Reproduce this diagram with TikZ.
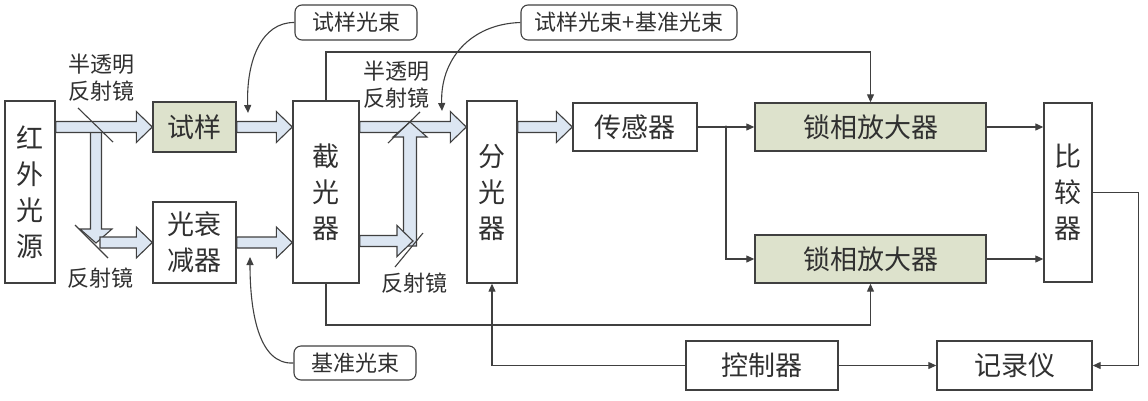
\documentclass[tikz,border=0pt]{standalone}
\usepackage{fontspec}
\newfontfamily\cjk{Noto Sans CJK SC}
\usetikzlibrary{calc,arrows.meta}
\definecolor{ln}{HTML}{404040}
\definecolor{txt}{HTML}{303030}
\definecolor{fatfill}{HTML}{DCE6F2}
\definecolor{boxgreen}{HTML}{DDE2CC}
\newcommand{\fatright}[2]{\filldraw[fatarrow] let \p1=#1, \p2=#2 in (\x1,\y1+5.5pt) -- (\x2-16pt,\y1+5.5pt) -- (\x2-16pt,\y1+15.5pt) -- (\x2,\y1) -- (\x2-16pt,\y1-15.5pt) -- (\x2-16pt,\y1-5.5pt) -- (\x1,\y1-5.5pt) -- cycle;}
\newcommand{\fatdown}[2]{\filldraw[fatarrow] let \p1=#1, \p2=#2 in (\x1-5.5pt,\y1) -- (\x1-5.5pt,\y2+14pt) -- (\x1-16pt,\y2+14pt) -- (\x1,\y2) -- (\x1+16pt,\y2+14pt) -- (\x1+5.5pt,\y2+14pt) -- (\x1+5.5pt,\y1) -- cycle;}
\newcommand{\fatup}[2]{\filldraw[fatarrow] let \p1=#1, \p2=#2 in (\x1-6.5pt,\y1) -- (\x1-6.5pt,\y2-15pt) -- (\x1-17pt,\y2-15pt) -- (\x1,\y2) -- (\x1+17pt,\y2-15pt) -- (\x1+6.5pt,\y2-15pt) -- (\x1+6.5pt,\y1) -- cycle;}
\begin{document}
\begin{tikzpicture}[x=1pt,y=-1pt,
  box/.style={draw=ln, line width=1.4pt, fill=white, text=txt, inner sep=0pt, align=center,
    font=\cjk\fontsize{27}{36}\selectfont},
  gbox/.style={box, fill=boxgreen},
  callout/.style={draw=ln, line width=1.1pt, rounded corners=7pt, fill=white, text=txt, inner sep=0pt,
    font=\cjk\fontsize{22}{24}\selectfont},
  lbl/.style={text=txt, inner sep=0pt, align=center, font=\cjk\fontsize{22}{27}\selectfont},
  conn/.style={draw=ln, line width=1.2pt, -{Triangle[length=8pt,width=7pt]}},
  curv/.style={draw=ln, line width=1.1pt, -{Triangle[length=8pt,width=7pt]}},
  fatarrow/.style={draw=ln, line width=1.1pt, fill=fatfill, line join=miter},
  mirror/.style={draw=ln, line width=1.1pt}]
\useasboundingbox (0,0) rectangle (1148,400);

% nodes
\node[box, minimum width=50pt, minimum height=182pt] (src) at (30,192) {红\\外\\光\\源};
\node[gbox, minimum width=83pt, minimum height=50pt] (sample) at (194.5,127) {试样};
\node[box, minimum width=83pt, minimum height=81pt] (atten) at (194.5,242.5) {光衰\\减器};
\node[box, minimum width=66pt, minimum height=182pt] (chop) at (326,192) {截\\光\\器};
\node[box, minimum width=50pt, minimum height=182pt] (split) at (492,192) {分\\光\\器};
\node[box, minimum width=124pt, minimum height=48pt] (sensor) at (635,127) {传感器};
\node[gbox, minimum width=231pt, minimum height=48pt] (lia1) at (870.5,127) {锁相放大器};
\node[gbox, minimum width=231pt, minimum height=48pt] (lia2) at (870.5,259) {锁相放大器};
\node[box, minimum width=48pt, minimum height=179pt] (comp) at (1068,192.5) {比\\较\\器};
\node[box, minimum width=155pt, minimum height=49pt] (rec) at (1014.5,365.5) {记录仪};
\node[box, minimum width=152pt, minimum height=49pt] (ctrl) at (762,365.5) {控制器};

\node[callout, minimum width=122pt, minimum height=35pt] (c1) at (356,22.5) {试样光束};
\node[callout, minimum width=216pt, minimum height=35pt] (c2) at (629,22.5) {试样光束+基准光束};
\node[callout, minimum width=122pt, minimum height=34pt] (c3) at (355,363) {基准光束};

% labels
\node[lbl] (l1) at (101,78) {半透明\\反射镜};
\node[lbl] (l2) at (100,278) {反射镜};
\node[lbl] (l3) at (396,85) {半透明\\反射镜};
\node[lbl] (l4) at (414,283) {反射镜};

% mirror points
\coordinate (m1) at (96,127);
\coordinate (m2) at (96,243);
\coordinate (m3) at (410,241);
\coordinate (m4) at (410,122);

% fat arrows
\fatdown{(m1)}{(m2)}
\fatright{(src.east |- sample.west)}{(sample.west)}
\fatright{($(m2)+(4,-0.5)$)}{(atten.west |- 0,242.5)}
\fatright{(sample.east)}{(chop.west |- sample.east)}
\fatright{(atten.east)}{(chop.west |- atten.east)}
\fatright{(chop.east |- 0,127)}{(split.west |- 0,127)}
\fatup{($(m3)+(0,5)$)}{(m4)}
\fatright{(chop.east |- m3)}{($(m3)+(3,0)$)}
\fatright{(split.east |- sensor.west)}{(sensor.west)}

% mirrors
\draw[mirror] (78,108) -- (113,142);
\draw[mirror] (75,225) -- (108,258);
\draw[mirror] (388,143) -- (420,112);
\draw[mirror] (395,267) -- (423,233);

% signal connectors
\coordinate (br) at (726,127);
\draw[conn] (sensor.east) -- (lia1.west);
\draw[conn] (br) |- (lia2.west);
\fill[ln] (br) circle (1.6pt);
\draw[conn] (chop.north) -- (chop.north |- 0,52) -| (lia1.north);
\draw[conn] (chop.south) -- (chop.south |- 0,325) -| (lia2.south);
\draw[conn] (lia1.east) -- (comp.west |- lia1.east);
\draw[conn] (lia2.east) -- (comp.west |- lia2.east);
\draw[conn] (comp.east) -- ++(46,0) |- (rec.east);
\draw[conn] (ctrl.west) -| (split.south);
\draw[conn] (ctrl.east) -- (rec.west);

% callout curves
\coordinate (t1) at (248,113);
\coordinate (t2) at (442,111);
\coordinate (t3) at (250,257);
\draw[curv] (c1.west) .. controls (262,22) and (246,60) .. (t1);
\draw[curv] (c2.west) .. controls (470,24) and (440,60) .. (t2);
\draw[curv] (c3.west) .. controls (258,365) and (250,310) .. (t3);
\end{tikzpicture}
\end{document}
